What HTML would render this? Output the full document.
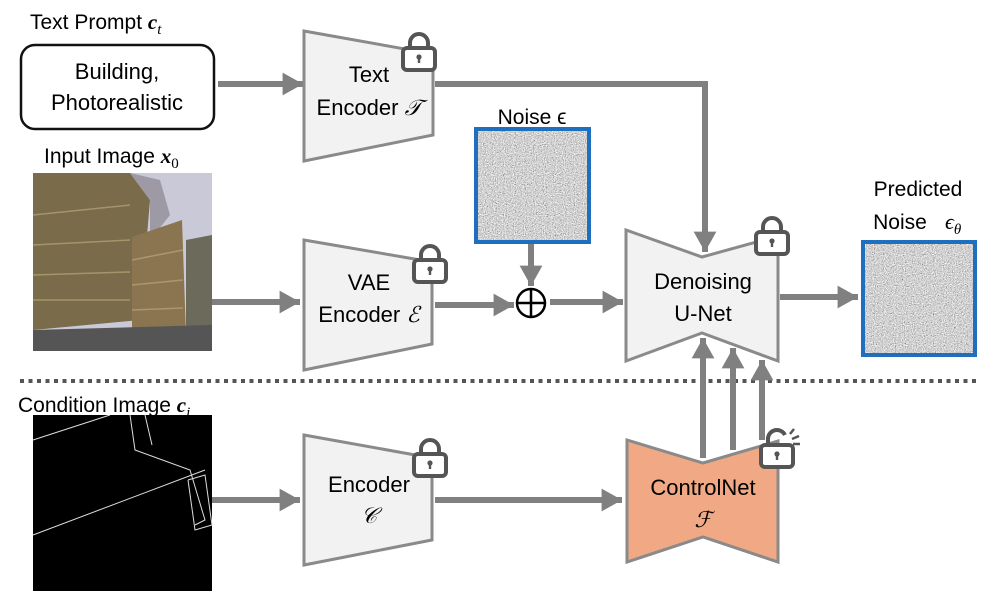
<!DOCTYPE html>
<html><head><meta charset="utf-8"><style>
body{margin:0;background:#fff;}
svg{display:block;font-family:"Liberation Sans","DejaVu Sans",sans-serif;}
</style></head><body>
<svg width="997" height="594" viewBox="0 0 997 594" xmlns="http://www.w3.org/2000/svg">
<defs>
<filter id="nz" x="0" y="0" width="100%" height="100%">
<feTurbulence type="fractalNoise" baseFrequency="0.9" numOctaves="2" seed="3"/>
<feColorMatrix type="matrix" values="0.33 0.33 0.33 0 0  0.33 0.33 0.33 0 0  0.33 0.33 0.33 0 0  0 0 0 0 1"/>
<feComponentTransfer><feFuncR type="linear" slope="2.2" intercept="-0.45"/><feFuncG type="linear" slope="2.2" intercept="-0.45"/><feFuncB type="linear" slope="2.2" intercept="-0.45"/></feComponentTransfer>
</filter>
<marker id="ah" markerWidth="4" markerHeight="4" refX="3.4" refY="1.9" orient="auto" markerUnits="strokeWidth"><path d="M0,0 L3.4,1.9 L0,3.8 z" fill="#808080"/></marker>
<g id="lock"><path d="M-9,-4 v-6 a9,9 0 0 1 18,0 v6" fill="none" stroke="#555" stroke-width="4"/><rect x="-16" y="-5" width="32" height="22" rx="4" fill="#fff" stroke="#555" stroke-width="4"/><circle cx="0" cy="4" r="2.6" fill="#555"/><rect x="-1.2" y="4" width="2.4" height="6" fill="#555"/></g>
</defs>

<!-- Text prompt -->
<text x="30" y="29" font-size="21">Text Prompt <tspan font-family="Liberation Serif" font-weight="bold" font-style="italic">c</tspan><tspan font-family="Liberation Serif" font-style="italic" font-size="15" dy="5">t</tspan></text>
<rect x="21" y="45" width="193" height="84" rx="14" fill="#fff" stroke="#111" stroke-width="2.5"/>
<text x="117" y="79" font-size="22" text-anchor="middle">Building,</text>
<text x="117" y="110" font-size="22" text-anchor="middle">Photorealistic</text>
<line x1="218" y1="84" x2="303" y2="84" stroke="#808080" stroke-width="6" marker-end="url(#ah)"/>

<!-- Text encoder -->
<polygon points="304,31 433,54 433,135 304,161" fill="#f2f2f2" stroke="#8a8a8a" stroke-width="3"/>
<text x="369" y="82" font-size="22" text-anchor="middle">Text</text>
<text x="369" y="115" font-size="22" text-anchor="middle">Encoder <tspan font-family="Liberation Serif" font-style="italic">𝒯</tspan></text>
<use href="#lock" x="419" y="53"/>
<polyline points="435,84 705,84 705,252" fill="none" stroke="#808080" stroke-width="6" marker-end="url(#ah)"/>

<!-- Input image -->
<text x="44" y="163" font-size="21">Input Image <tspan font-family="Liberation Serif" font-weight="bold" font-style="italic">x</tspan><tspan font-family="Liberation Serif" font-size="15" dy="5">0</tspan></text>
<g>
<rect x="33" y="173" width="179" height="178" fill="#c9c9d8"/>
<polygon points="33,173 130,173 150,200 140,320 33,330" fill="#7a6b4a"/>
<polygon points="130,173 150,200 150,240 170,215 160,180" fill="#9d9aa6"/>
<polygon points="132,237 182,220 186,335 132,345" fill="#8a7550"/>
<polygon points="186,240 212,235 212,330 186,335" fill="#6c6a5a"/>
<polygon points="33,330 212,325 212,351 33,351" fill="#555"/>
<g stroke="#b8a67a" stroke-width="1.5" opacity="0.7">
<line x1="33" y1="215" x2="130" y2="205"/><line x1="33" y1="245" x2="130" y2="240"/><line x1="33" y1="275" x2="130" y2="272"/><line x1="33" y1="300" x2="130" y2="300"/>
<line x1="132" y1="260" x2="183" y2="250"/><line x1="132" y1="285" x2="183" y2="280"/><line x1="132" y1="310" x2="183" y2="308"/>
</g>
</g>
<line x1="212" y1="302" x2="300" y2="302" stroke="#808080" stroke-width="6" marker-end="url(#ah)"/>

<!-- VAE encoder -->
<polygon points="304,240 432,262 432,344 304,370" fill="#f2f2f2" stroke="#8a8a8a" stroke-width="3"/>
<text x="369" y="290" font-size="22" text-anchor="middle">VAE</text>
<text x="369" y="322" font-size="22" text-anchor="middle">Encoder <tspan font-family="Liberation Serif" font-style="italic">ℰ</tspan></text>
<use href="#lock" x="430" y="265"/>
<line x1="435" y1="305" x2="514" y2="305" stroke="#808080" stroke-width="6" marker-end="url(#ah)"/>

<!-- Noise -->
<text x="532" y="124" font-size="21" text-anchor="middle">Noise ϵ</text>
<rect x="476" y="129" width="113" height="113" fill="#888" filter="url(#nz)"/>
<rect x="476" y="129" width="113" height="113" fill="none" stroke="#1f6fbf" stroke-width="4"/>
<line x1="531" y1="244" x2="531" y2="286" stroke="#808080" stroke-width="6" marker-end="url(#ah)"/>
<circle cx="531" cy="303" r="14" fill="#fff" stroke="#000" stroke-width="2.5"/>
<line x1="517" y1="303" x2="545" y2="303" stroke="#000" stroke-width="2.5"/>
<line x1="531" y1="289" x2="531" y2="317" stroke="#000" stroke-width="2.5"/>
<line x1="550" y1="302" x2="623" y2="302" stroke="#808080" stroke-width="6" marker-end="url(#ah)"/>

<!-- U-Net -->
<polygon points="626,230 702,257 778,236 778,361 702,333 626,361" fill="#f2f2f2" stroke="#8a8a8a" stroke-width="3"/>
<text x="703" y="289" font-size="22" text-anchor="middle">Denoising</text>
<text x="703" y="321" font-size="22" text-anchor="middle">U-Net</text>
<use href="#lock" x="772" y="237"/>
<line x1="780" y1="297" x2="858" y2="297" stroke="#808080" stroke-width="6" marker-end="url(#ah)"/>

<!-- Predicted noise -->
<text x="918" y="196" font-size="21" text-anchor="middle">Predicted</text>
<text x="900" y="229" font-size="21" text-anchor="middle">Noise</text>
<text x="945" y="229" font-size="22" font-family="Liberation Serif" font-style="italic">ϵ<tspan font-size="15" dy="5">θ</tspan></text>
<rect x="863" y="242" width="112" height="113" fill="#888" filter="url(#nz)"/>
<rect x="863" y="242" width="112" height="113" fill="none" stroke="#1f6fbf" stroke-width="4"/>

<!-- Dotted separator -->
<line x1="20" y1="381" x2="976" y2="381" stroke="#555" stroke-width="4" stroke-dasharray="4,4.5"/>

<!-- Condition image -->
<text x="18" y="412" font-size="21">Condition Image <tspan font-family="Liberation Serif" font-weight="bold" font-style="italic">c</tspan><tspan font-family="Liberation Serif" font-style="italic" font-size="15" dy="5">i</tspan></text>
<rect x="33" y="415" width="179" height="176" fill="#000"/>
<g stroke="#ddd" stroke-width="1" fill="none">
<polyline points="130,415 135,450 190,470 205,520 195,525"/>
<polyline points="145,415 152,445"/>
<polyline points="33,535 205,470"/>
<polyline points="188,480 205,475 212,525 195,530 188,480"/>
<polyline points="33,440 110,415"/>
</g>
<line x1="212" y1="500" x2="300" y2="500" stroke="#808080" stroke-width="6" marker-end="url(#ah)"/>

<!-- Encoder C -->
<polygon points="304,435 432,458 432,540 304,565" fill="#f2f2f2" stroke="#8a8a8a" stroke-width="3"/>
<text x="369" y="492" font-size="22" text-anchor="middle">Encoder</text>
<text x="369" y="523" font-size="22" text-anchor="middle" font-family="Liberation Serif" font-style="italic">𝒞</text>
<use href="#lock" x="430" y="459"/>
<line x1="435" y1="500" x2="622" y2="500" stroke="#808080" stroke-width="6" marker-end="url(#ah)"/>

<!-- ControlNet -->
<polygon points="627,440 703,463 778,441 778,562 703,537 627,562" fill="#f0a984" stroke="#8a8a8a" stroke-width="3"/>
<text x="703" y="495" font-size="22" text-anchor="middle">ControlNet</text>
<text x="703" y="527" font-size="22" text-anchor="middle" font-family="Liberation Serif" font-style="italic">ℱ</text>
<line x1="703" y1="458" x2="703" y2="338" stroke="#808080" stroke-width="6" marker-end="url(#ah)"/>
<line x1="733" y1="450" x2="733" y2="348" stroke="#808080" stroke-width="6" marker-end="url(#ah)"/>
<line x1="762" y1="440" x2="762" y2="360" stroke="#808080" stroke-width="6" marker-end="url(#ah)"/>
<g transform="translate(777,450)">
<path d="M-9,-4 v-8 a9,9 0 0 1 17,-3" fill="none" stroke="#555" stroke-width="4"/>
<rect x="-16" y="-5" width="32" height="22" rx="4" fill="#fff" stroke="#555" stroke-width="4"/>
<circle cx="0" cy="4" r="2.6" fill="#555"/><rect x="-1.2" y="4" width="2.4" height="6" fill="#555"/>
<line x1="13" y1="-16" x2="17" y2="-21" stroke="#555" stroke-width="2.5"/>
<line x1="15" y1="-11" x2="22" y2="-14" stroke="#555" stroke-width="2.5"/>
<line x1="16" y1="-6" x2="23" y2="-6" stroke="#555" stroke-width="2.5"/>
</g>
</svg>
</body></html>
